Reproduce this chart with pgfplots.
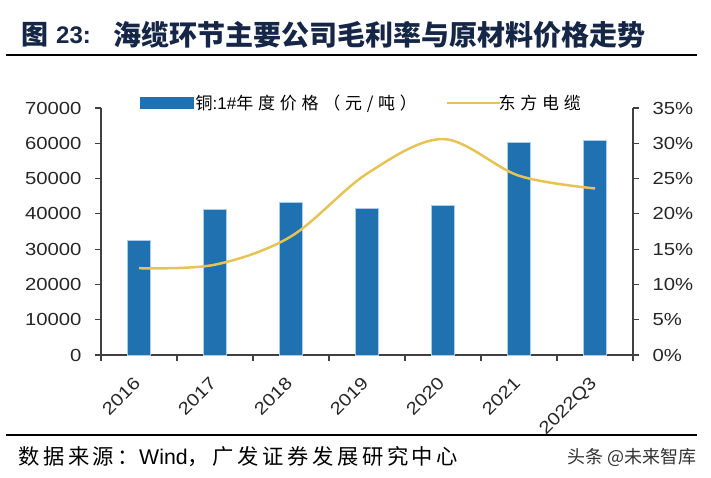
\documentclass[border=0pt]{standalone}
\usepackage{fontspec}
\setmainfont{Liberation Sans}[FakeStretch=1.16]
\newfontfamily\plainsans{Liberation Sans}
\newfontfamily\cjk{Noto Sans CJK SC}
\newfontfamily\cjkls{Noto Sans CJK SC}[LetterSpace=28]
\newfontfamily\cjksrc{Noto Sans CJK SC}[LetterSpace=17]
\usepackage{pgfplots}
\pgfplotsset{compat=1.18}
\definecolor{barblue}{RGB}{31,113,176}
\definecolor{baredge}{RGB}{170,205,235}
\definecolor{linegold}{RGB}{231,195,86}
\definecolor{titleblue}{RGB}{22,38,70}
\definecolor{axgray}{RGB}{64,64,64}
\begin{document}
\begin{tikzpicture}
\path (0pt,0pt) rectangle (711pt,-478pt);
% title
\node[anchor=west,inner sep=0pt,text=titleblue] at (21pt,-35pt)
  {\fontsize{27}{30}\selectfont\cjk\bfseries 图};
\node[anchor=west,inner sep=0pt,text=titleblue] at (56pt,-35pt)
  {\fontsize{24}{28}\selectfont\plainsans\bfseries 23:};
\node[anchor=west,inner sep=0pt,text=titleblue] at (113pt,-35pt)
  {\fontsize{28}{30}\selectfont\cjk\bfseries 海缆环节主要公司毛利率与原材料价格走势};
\draw[line width=2.2pt,black] (6pt,-55pt) -- (697pt,-55pt);
\draw[line width=2.2pt,black] (6pt,-435pt) -- (697pt,-435pt);
\node[anchor=west,inner sep=0pt] at (18pt,-457pt)
  {\fontsize{21.3}{23}\selectfont\cjksrc 数据来源：{\plainsans Wind}，广发证券发展研究中心};
\node[anchor=east,inner sep=0pt,text=black!80] at (697pt,-457pt)
  {\fontsize{18}{20}\selectfont\cjk 头条 @未来智库};

\begin{axis}[
  at={(101pt,-355pt)}, anchor=south west,
  scale only axis, width=532pt, height=247pt,
  xmin=-0.5, xmax=6.5, ymin=0, ymax=70000,
  axis y line*=left, axis x line*=bottom,
  axis line style={axgray, line width=1.2pt},
  xtick={0,...,6},
  xticklabels={2016,2017,2018,2019,2020,2021,2022Q3},
  major x tick style={draw=none},
  minor xtick={-0.5,0.5,...,6.5},
  minor tick length=6pt,
  minor x tick style={axgray, line width=1.2pt},
  ytick={0,10000,...,70000},
  major tick length=6pt,
  tick align=outside,
  y tick style={axgray, line width=1.2pt},
  scaled y ticks=false,
  yticklabel style={/pgf/number format/1000 sep={}, font=\fontsize{17.5}{19}\selectfont, text=black!85, xshift=-10pt},
  /pgf/number format/assume math mode=true,
  xticklabel style={rotate=45, anchor=north east, font=\fontsize{17.5}{19}\selectfont, text=black!85, xshift=-11.5pt, yshift=-2.5pt},
  ybar, bar width=23pt,
  legend columns=2,
  legend style={draw=none, fill=none, at={(axis description cs:0.073,1.02)}, anchor=west,
    font=\fontsize{17}{19}\selectfont\cjkls, inner sep=0pt,
    /tikz/every even column/.append style={column sep=27pt},
    cells={anchor=west}},
  clip=false,
]
\addplot[fill=barblue, draw=baredge, line width=0.6pt,
  area legend,
  legend image code/.code={\fill[barblue] (0pt,-5.5pt) rectangle (53pt,5.5pt);}]
  coordinates {(0,32500) (1,41200) (2,43200) (3,41600) (4,42300) (5,60300) (6,60900)};
\addlegendentry{铜{\plainsans :1\#}年度价格（元/吨）}
\addlegendimage{linegold, line width=2.5pt, legend image code/.code={\draw[linegold,line width=2.5pt] (0pt,0pt) -- (53pt,0pt);}}
\addlegendentry{\hspace{-5pt}东方电缆}
\end{axis}

\begin{axis}[
  at={(101pt,-355pt)}, anchor=south west,
  scale only axis, width=532pt, height=247pt,
  xmin=-0.5, xmax=6.5, ymin=0, ymax=35,
  axis y line*=right, axis x line=none,
  axis line style={axgray, line width=1.2pt},
  ytick={0,5,...,35},
  yticklabel={\pgfmathprintnumber{\tick}\%},
  major tick length=6pt,
  tick align=outside,
  y tick style={axgray, line width=1.2pt},
  yticklabel style={font=\fontsize{17.5}{19}\selectfont, text=black!85, xshift=10pt},
  /pgf/number format/assume math mode=true,
]
\addplot[linegold, line width=2.5pt, smooth, tension=0.55]
  coordinates {(0,12.3) (1,12.8) (2,16.8) (3,25.7) (4,30.6) (5,25.4) (6,23.6)};
\end{axis}
\end{tikzpicture}
\end{document}
